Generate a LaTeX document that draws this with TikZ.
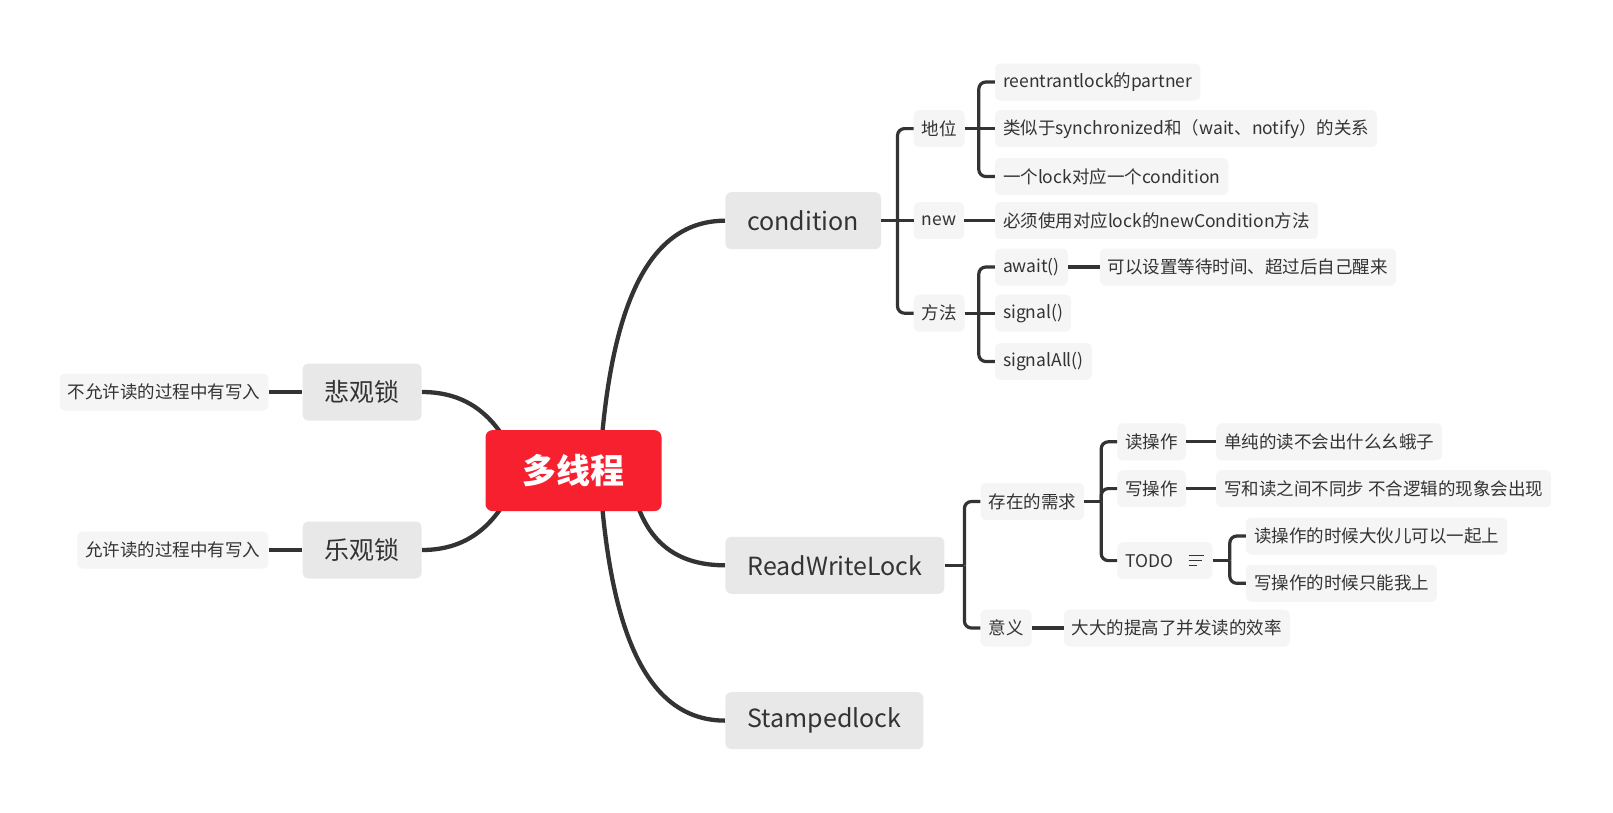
\documentclass[tikz,border=0pt]{standalone}
\usepackage{fontspec}
\setmainfont{Noto Sans CJK SC}
\usetikzlibrary{backgrounds}
\definecolor{encre}{HTML}{333333}
\definecolor{rouge}{HTML}{F7202F}
\definecolor{gris}{HTML}{E8E8E8}
\definecolor{pale}{HTML}{F5F5F5}
\newcommand{\branche}[2]{\path (#2.west) ++(-16,0) coordinate (fk);
\draw[trait] (#1.east) -- (#1.east -| fk);
\draw[trait, rounded corners=7pt] (#1.east -| fk) |- (#2.west);}
\newcommand{\lien}[2]{\draw[trait] (#1.east) -- (#2.west);}
\tikzset{ racine/.style={fill=rouge, text=white, rounded corners=7pt, minimum width=176pt,
    minimum height=81pt, font=\fontsize{34}{40}\selectfont\bfseries},
  sujet/.style={fill=gris, text=encre, rounded corners=6pt, inner xsep=22pt,
    minimum height=57pt, anchor=west, font=\fontsize{25}{29}\selectfont},
  feuille/.style={fill=pale, text=encre, rounded corners=5pt, inner xsep=8pt,
    minimum height=37pt, anchor=west, font=\fontsize{17.5}{21}\selectfont},
  tronc/.style={draw=encre, line width=4.3pt},
  trait/.style={draw=encre, line width=3.2pt} }

\begin{document}
\begin{tikzpicture}[x=1pt, y=-1pt]
  \useasboundingbox (0,0) rectangle (1613,812);
  \node[racine] (mt) at (573.5,470.6) {多线程};
  % gauche
  \node[sujet, anchor=east] (pess) at (421.8,392) {悲观锁};
  \node[sujet, anchor=east] (opt) at (421.8,550) {乐观锁};
  \node[feuille, anchor=east] (pess1) at (268.5,392) {不允许读的过程中有写入};
  \node[feuille, anchor=east] (opt1) at (268.5,550) {允许读的过程中有写入};
  \lien{pess1}{pess}
  \lien{opt1}{opt}
  % droite
  \node[sujet] (cond) at (725.2,220.7) {condition};
  \node[sujet] (rwl) at (725.2,565.3) {ReadWriteLock};
  \node[sujet] (stl) at (725.2,720.6) {Stampedlock};
  \begin{scope}[on background layer]
    \draw[tronc] (pess.east) .. controls +(50,0) and +(-20,-50) .. ([xshift=-53pt]mt.center);
    \draw[tronc] (opt.east) .. controls +(50,0) and +(-20,50) .. ([xshift=-53pt]mt.center);
    \draw[tronc] (cond.west) .. controls +(-75,0) and +(10,-170) .. ([xshift=26pt]mt.center);
    \draw[tronc] (rwl.west) .. controls +(-45,0) and +(10,75) .. ([xshift=56pt]mt.center);
    \draw[tronc] (stl.west) .. controls +(-75,0) and +(10,170) .. ([xshift=26pt]mt.center);
  \end{scope}

  % condition
  \node[feuille] (statut) at (913.5,128.6) {地位};
  \node[feuille] (new) at (913.5,220.7) {new};
  \node[feuille] (meth) at (913.5,313.2) {方法};
  \node[feuille] (st1) at (994.8,82) {reentrantlock的partner};
  \node[feuille] (st2) at (994.8,128.6) {类似于synchronized和（wait、notify）的关系};
  \node[feuille] (st3) at (994.8,176.5) {一个lock对应一个condition};
  \node[feuille] (new1) at (994.8,220.7) {必须使用对应lock的newCondition方法};
  \node[feuille] (await) at (994.8,267) {await()};
  \node[feuille] (sig) at (994.8,313.2) {signal()};
  \node[feuille] (sigall) at (994.8,361.5) {signalAll()};
  \node[feuille] (await1) at (1099.7,267) {可以设置等待时间、超过后自己醒来};
  \branche{cond}{statut}
  \lien{cond}{new}
  \branche{cond}{meth}
  \foreach \n in {st1,st3} {\branche{statut}{\n}}
  \lien{statut}{st2}
  \lien{new}{new1}
  \foreach \n in {await,sigall} {\branche{meth}{\n}}
  \lien{meth}{sig}
  \lien{await}{await1}

  % ReadWriteLock
  \node[feuille] (besoin) at (980.4,501.5) {存在的需求};
  \node[feuille] (sens) at (980.4,628) {意义};
  \node[feuille] (lire) at (1117.2,441.8) {读操作};
  \node[feuille] (ecrire) at (1117.2,488.6) {写操作};
  \node[feuille] (todo) at (1117.2,560.6) {TODO\kern31pt};
  \draw[encre, line width=1.3pt] ([shift={(-24,-5)}]todo.east) -- ++(15,0)
    ([shift={(-24,0)}]todo.east) -- ++(13,0) ([shift={(-24,5)}]todo.east) -- ++(8,0);
  \node[feuille] (lire1) at (1216,441.8) {单纯的读不会出什么幺蛾子};
  \node[feuille] (ecrire1) at (1216,488.6) {写和读之间不同步 不合逻辑的现象会出现};
  \node[feuille] (todo1) at (1245.8,536) {读操作的时候大伙儿可以一起上};
  \node[feuille] (todo2) at (1245.8,583.3) {写操作的时候只能我上};
  \node[feuille] (sens1) at (1063.7,628) {大大的提高了并发读的效率};
  \foreach \n in {besoin,sens} {\branche{rwl}{\n}}
  \foreach \n in {lire,ecrire,todo} {\branche{besoin}{\n}}
  \lien{lire}{lire1}
  \lien{ecrire}{ecrire1}
  \foreach \n in {todo1,todo2} {\branche{todo}{\n}}
  \lien{sens}{sens1}
\end{tikzpicture}
\end{document}
